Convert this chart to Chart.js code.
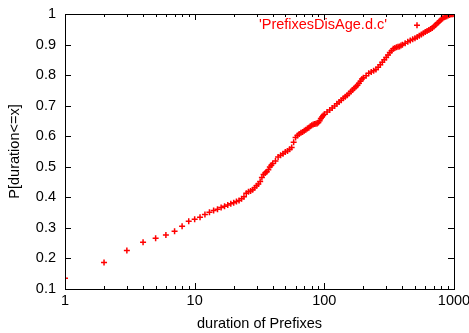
<!DOCTYPE html>
<html>
<head>
<meta charset="utf-8">
<script src="https://cdn.jsdelivr.net/npm/chart.js@4"></script>
<style>
  html, body { margin: 0; padding: 0; background: #fff; }
  #wrap { width: 469px; height: 333px; }
</style>
</head>
<body>
<div id="wrap"><canvas id="myChart" width="469" height="333"></canvas></div>
<script>
  // CDF of prefix durations
  const durations = [
    1, 2, 3, 4, 5, 6, 7, 8, 9, 10, 11, 12, 13, 14, 15, 16, 17, 18, 19, 20, 21,
    22, 23, 24, 25, 26, 27, 28, 29, 30, 31, 32, 33, 34, 35, 36, 37, 38, 39, 40,
    42, 44, 46, 48, 50, 52, 54, 56, 58, 60, 62, 64, 66, 68, 70, 72, 74, 76, 78, 80,
    82, 84, 86, 88, 90, 92, 94, 96, 98, 100,
    105, 110, 115, 120, 125, 130, 135, 140, 145, 150, 155, 160, 165, 170, 175, 180, 185, 190, 195, 200,
    210, 220, 230, 240, 250, 260, 270, 280, 290, 300, 310, 320, 330, 340, 350, 360, 370, 380, 390, 400,
    420, 440, 460, 480, 500, 520, 540, 560, 580, 600, 620, 640, 660, 680, 700, 720, 740, 760, 780, 800,
    820, 840, 860, 880, 900, 920, 940, 960, 980, 1000
  ];
  const probs = [
    0.135, 0.187, 0.226, 0.253, 0.266, 0.277, 0.289, 0.305, 0.322, 0.328, 0.335, 0.344, 0.351, 0.357, 0.361, 0.367, 0.371, 0.375, 0.379, 0.382, 0.386,
    0.390, 0.395, 0.402, 0.413, 0.418, 0.421, 0.425, 0.431, 0.438, 0.444, 0.452, 0.465, 0.475, 0.480, 0.484, 0.490, 0.499, 0.505, 0.511,
    0.519, 0.532, 0.538, 0.543, 0.548, 0.552, 0.557, 0.563, 0.580, 0.596, 0.602, 0.607, 0.611, 0.614, 0.618, 0.621, 0.625, 0.628, 0.633, 0.636,
    0.638, 0.640, 0.641, 0.642, 0.645, 0.651, 0.658, 0.663, 0.668, 0.672,
    0.679, 0.686, 0.692, 0.699, 0.706, 0.712, 0.718, 0.724, 0.729, 0.734, 0.740, 0.746, 0.751, 0.757, 0.762, 0.767, 0.773, 0.780, 0.787, 0.791,
    0.798, 0.806, 0.810, 0.814, 0.818, 0.826, 0.834, 0.842, 0.850, 0.858, 0.866, 0.874, 0.880, 0.886, 0.889, 0.891, 0.893, 0.894, 0.897, 0.899,
    0.904, 0.909, 0.913, 0.917, 0.921, 0.925, 0.929, 0.933, 0.937, 0.941, 0.944, 0.948, 0.951, 0.954, 0.959, 0.964, 0.969, 0.973, 0.978, 0.983,
    0.986, 0.989, 0.991, 0.993, 0.995, 0.997, 0.998, 0.999, 0.9995, 1.0
  ];
  const xTicks = [1, 10, 100, 1000];
  const yTicks = [0.1, 0.2, 0.3, 0.4, 0.5, 0.6, 0.7, 0.8, 0.9, 1];
  const seriesLabel = "'PrefixesDisAge.d.c'";

  const RED = "#ff0000";
  const FONT = { family: "'Liberation Sans', Arial, sans-serif", size: 14.5 };

  // gnuplot-style frame with inward ticks
  const framePlugin = {
    id: "frame",
    afterDatasetsDraw(chart) {
      const { ctx, chartArea: a, scales } = chart;
      const x = scales.x, y = scales.y;
      ctx.save();
      ctx.strokeStyle = "#000";
      ctx.lineWidth = 1;
      ctx.beginPath();
      yTicks.forEach((v) => {
        const py = Math.round(y.getPixelForValue(v)) + 0.5;
        ctx.moveTo(a.left, py); ctx.lineTo(a.left + 6, py);
        ctx.moveTo(a.right, py); ctx.lineTo(a.right - 6, py);
      });
      for (let d = 1; d < 1000; d *= 10) {
        for (let m = 1; m <= 10; m++) {
          const px = Math.round(x.getPixelForValue(d * m)) + 0.5;
          const len = (m === 1 || m === 10) ? 6 : 3;
          ctx.moveTo(px, a.bottom); ctx.lineTo(px, a.bottom - len);
          ctx.moveTo(px, a.top); ctx.lineTo(px, a.top + len);
        }
      }
      ctx.stroke();
      ctx.strokeRect(Math.round(a.left) + 0.5, Math.round(a.top) + 0.5,
        Math.round(a.right - a.left), Math.round(a.bottom - a.top));
      ctx.restore();
    },
  };

  // key: label text with a sample marker to its right
  const keyPlugin = {
    id: "key",
    afterDraw(chart) {
      const ctx = chart.ctx;
      ctx.save();
      ctx.font = FONT.size + "px " + FONT.family;
      ctx.fillStyle = RED;
      ctx.textAlign = "right";
      ctx.textBaseline = "middle";
      ctx.fillText(seriesLabel, 387, 25);
      ctx.strokeStyle = RED;
      ctx.lineWidth = 1.5;
      ctx.beginPath();
      ctx.moveTo(414, 25.3); ctx.lineTo(420, 25.3);
      ctx.moveTo(417, 22.3); ctx.lineTo(417, 28.3);
      ctx.stroke();
      ctx.restore();
    },
  };

  window.addEventListener("load", setup);

  function setup() {
    const ctx = document.getElementById("myChart").getContext("2d");
    const points = durations.map((d, i) => ({ x: d, y: probs[i] }));

    new Chart(ctx, {
      type: "scatter",
      data: {
        datasets: [
          {
            label: seriesLabel,
            data: points,
            pointStyle: "cross",
            pointRadius: 3,
            pointBorderWidth: 1.5,
            pointBorderColor: RED,
            pointBackgroundColor: RED,
            borderColor: RED,
            backgroundColor: RED,
            showLine: false,
          },
        ],
      },
      options: {
        responsive: false,
        animation: false,
        events: [],
        layout: { padding: { top: 14, right: 15, left: 0, bottom: 0 } },
        plugins: { legend: { display: false }, tooltip: { enabled: false } },
        scales: {
          x: {
            type: "logarithmic",
            min: 1,
            max: 1000,
            afterBuildTicks: (s) => { s.ticks = xTicks.map((v) => ({ value: v })); },
            afterFit: (s) => { s.height = 44; s.paddingLeft = 0; s.paddingRight = 0; },
            ticks: {
              color: "#000",
              font: FONT,
              padding: 3,
              maxRotation: 0,
              autoSkip: false,
              callback: (v) => String(v),
            },
            grid: { display: false, drawTicks: false },
            border: { display: false },
            title: { display: true, text: "duration of Prefixes", color: "#000", font: FONT, padding: { top: 0, bottom: 0 } },
          },
          y: {
            min: 0.1,
            max: 1,
            afterBuildTicks: (s) => { s.ticks = yTicks.map((v) => ({ value: v })); },
            afterFit: (s) => { s.width = 65; s.paddingTop = 0; s.paddingBottom = 0; },
            ticks: {
              color: "#000",
              font: FONT,
              padding: 9,
              callback: (v) => String(Math.round(v * 10) / 10),
            },
            grid: { display: false, drawTicks: false },
            border: { display: false },
            title: { display: true, text: "P[duration<=x]", color: "#000", font: FONT, padding: { top: 6, bottom: 0 } },
          },
        },
      },
      plugins: [framePlugin, keyPlugin],
    });
  }
</script>
</body>
</html>
